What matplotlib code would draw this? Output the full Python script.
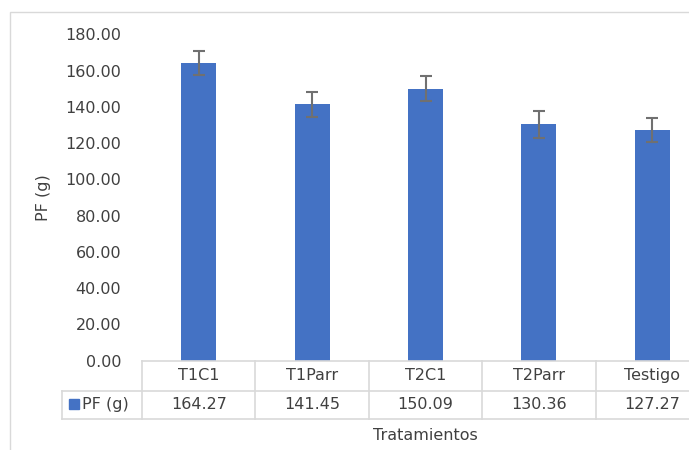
import matplotlib.pyplot as plt
from matplotlib.lines import Line2D
from matplotlib.patches import Rectangle
import numpy as np

################ data ################
tratamientos = ['T1C1', 'T1Parr', 'T2C1', 'T2Parr', 'Testigo']
pf = [164.27, 141.45, 150.09, 130.36, 127.27]
err = [6.8, 6.7, 6.8, 7.2, 6.8]
serie = 'PF (g)'

W, H = 689, 450
txt = '#404040'
grid = '#D9D9D9'
blue = '#4472C4'
fs = 11.5

fig = plt.figure(figsize=(W / 100, H / 100), dpi=100)

def fx(px):
    return px / W

def fy(py):
    return 1 - py / H

# plot area in pixels
x0, x1 = 142, 709
y_top, y_zero = 34.5, 360.7
y_row, y_bot = 390.5, 419
x_leg = 62

ax = fig.add_axes([fx(x0), fy(y_zero), fx(x1 - x0), (y_zero - y_top) / H])
x = np.arange(len(tratamientos))
ax.bar(x, pf, width=0.31, color=blue, zorder=2)
ax.errorbar(x, pf, yerr=err, fmt='none', ecolor='#707070', elinewidth=1.5,
            capsize=4, capthick=1.5, zorder=3)
ax.set_xlim(-0.5, len(tratamientos) - 0.5)
ax.set_ylim(0, 180)
ax.set_yticks(np.arange(0, 181, 20))
ax.set_yticklabels([f'{v:.2f}' for v in np.arange(0, 181, 20)], fontsize=fs, color=txt)
ax.tick_params(axis='y', length=0, pad=15)
ax.set_xticks([])
for s in ax.spines.values():
    s.set_visible(False)
ax.set_ylabel('PF (g)', fontsize=fs, color=txt, labelpad=10)
ax.patch.set_alpha(0)

# chart border
fig.add_artist(Rectangle((fx(10), fy(H + 20)), fx(W + 20), (H + 20 - 12) / H,
                         transform=fig.transFigure, fill=False, edgecolor=grid, lw=1))

################ data table ################
def hline(y, xa, xb):
    fig.add_artist(Line2D([fx(xa), fx(xb)], [fy(y), fy(y)], color=grid, lw=1.2))

def vline(xp, ya, yb):
    fig.add_artist(Line2D([fx(xp), fx(xp)], [fy(ya), fy(yb)], color=grid, lw=1.2))

col_w = (x1 - x0) / len(tratamientos)
hline(y_zero, x0, x1)
hline(y_row, x_leg, x1)
hline(y_bot, x_leg, x1)
vline(x_leg, y_row, y_bot)
for i in range(len(tratamientos) + 1):
    vline(x0 + i * col_w, y_zero, y_bot)

for i, (t, v) in enumerate(zip(tratamientos, pf)):
    cx = fx(x0 + (i + 0.5) * col_w)
    fig.text(cx, fy((y_zero + y_row) / 2), t, ha='center', va='center', fontsize=fs, color=txt)
    fig.text(cx, fy((y_row + y_bot) / 2), f'{v:.2f}', ha='center', va='center', fontsize=fs, color=txt)

fig.add_artist(Rectangle((fx(69), fy(409)), fx(10), 10 / H, transform=fig.transFigure,
                         color=blue))
fig.text(fx(82), fy((y_row + y_bot) / 2), serie, ha='left', va='center', fontsize=fs, color=txt)

fig.text(fx((x0 + x1) / 2), fy(436), 'Tratamientos', ha='center', va='center', fontsize=fs, color=txt)

plt.savefig('out.png', dpi=100)
